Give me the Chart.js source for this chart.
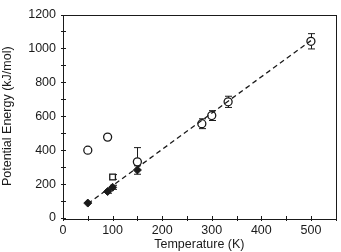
<!DOCTYPE html>
<html><head><meta charset="utf-8">
<script src="https://cdn.jsdelivr.net/npm/chart.js@4"></script>
<style>html,body{margin:0;padding:0;background:#fff}#c{display:block}</style>
</head><body>
<canvas id="c" width="341" height="252"></canvas>
<script>
const xTicks = [0, 100, 200, 300, 400, 500];
const yTicks = [0, 200, 400, 600, 800, 1000, 1200];
const xMinor = [50, 150, 250, 350, 450, 550];
const yMinor = [100, 300, 500, 700, 900, 1100];

const openCircleT = [50, 90, 150, 280, 300, 333, 500];
const openCircleE = [400, 477, 331, 556, 604, 685, 1042];
const openCircleUp = [0, 0, 84, 29, 29, 33, 45];
const openCircleDn = [0, 0, 0, 29, 29, 33, 45];

const openSquareT = [100];
const openSquareE = [242];
const openSquareUp = [14];
const openSquareDn = [14];

const filledT = [50, 90, 100, 150];
const filledE = [88, 156, 181, 283];
const filledUp = [0, 10, 12, 25];
const filledDn = [0, 10, 12, 25];

const fitT = [50, 500];
const fitE = [84, 1046];

const pts = (xs, ys) => xs.map((x, i) => ({x, y: ys[i]}));
const FONT = {family: "'Liberation Sans', Arial, sans-serif", size: 12.5};
const INK = '#1a1a1a';

const errPlugin = {
  id: 'err',
  beforeDatasetsDraw(chart) {
    const ctx = chart.ctx, xs = chart.scales.x, ys = chart.scales.y;
    ctx.save();
    ctx.strokeStyle = INK; ctx.lineWidth = 1;
    chart.data.datasets.forEach(ds => {
      if (!ds.errUp) return;
      ds.data.forEach((p, i) => {
        const px = Math.round(xs.getPixelForValue(p.x)) + 0.5;
        const up = ds.errUp[i], dn = ds.errDn[i];
        if (!up && !dn) return;
        const y0 = ys.getPixelForValue(p.y - dn), y1 = ys.getPixelForValue(p.y + up);
        ctx.beginPath(); ctx.moveTo(px, y0); ctx.lineTo(px, y1);
        if (up) { ctx.moveTo(px - 3.5, y1); ctx.lineTo(px + 3.5, y1); }
        if (dn) { ctx.moveTo(px - 3.5, y0); ctx.lineTo(px + 3.5, y0); }
        ctx.stroke();
      });
    });
    ctx.restore();
  },
  afterDraw(chart) {
    const ctx = chart.ctx, a = chart.chartArea, xs = chart.scales.x, ys = chart.scales.y;
    ctx.save();
    ctx.strokeStyle = INK; ctx.lineWidth = 1;
    ctx.strokeRect(Math.round(a.left) + 0.5, Math.round(a.top) + 0.5, Math.round(a.right - a.left), Math.round(a.bottom - a.top));
    ctx.beginPath();
    const b = Math.round(a.bottom) + 0.5, l = Math.round(a.left) + 0.5;
    xTicks.concat(xMinor).forEach(v => {
      const px = Math.round(xs.getPixelForValue(v)) + 0.5;
      ctx.moveTo(px, b - 2.5); ctx.lineTo(px, b + 2.5);
    });
    yTicks.concat(yMinor).forEach(v => {
      const py = Math.round(ys.getPixelForValue(v)) + 0.5;
      ctx.moveTo(l - 2.5, py); ctx.lineTo(l + 2.5, py);
    });
    ctx.stroke();
    ctx.restore();
  }
};

new Chart(document.getElementById('c'), {
  type: 'scatter',
  data: {
    datasets: [
      {type: 'line', data: pts(fitT, fitE), borderColor: INK, borderWidth: 1.3, borderDash: [5, 3.5], pointRadius: 0, fill: false},
      {data: pts(filledT, filledE), errUp: filledUp, errDn: filledDn, pointStyle: 'rectRot', pointRadius: 4, backgroundColor: INK, borderColor: INK, borderWidth: 1},
      {data: pts(openSquareT, openSquareE), errUp: openSquareUp, errDn: openSquareDn, pointStyle: 'rect', pointRadius: 4, backgroundColor: '#fff', borderColor: INK, borderWidth: 1.3},
      {data: pts(openCircleT, openCircleE), errUp: openCircleUp, errDn: openCircleDn, pointStyle: 'circle', pointRadius: 4, backgroundColor: '#fff', borderColor: INK, borderWidth: 1.3}
    ]
  },
  options: {
    responsive: false, animation: false,
    layout: {padding: {top: 11, right: 2, left: 0, bottom: 0}},
    plugins: {legend: {display: false}, tooltip: {enabled: false}},
    scales: {
      x: {
        type: 'linear', min: 0, max: 550,
        afterBuildTicks: s => { s.ticks = xTicks.map(v => ({value: v})); },
        afterFit: s => { s.height = 34; },
        grid: {display: false, drawTicks: false},
        border: {display: false},
        ticks: {color: INK, font: FONT, padding: 5, maxRotation: 0, callback: v => String(v)},
        title: {display: true, text: 'Temperature (K)', color: INK, font: FONT, padding: {top: 0, bottom: 0}}
      },
      y: {
        type: 'linear', min: 0, max: 1200,
        afterBuildTicks: s => { s.ticks = yTicks.map(v => ({value: v})); },
        afterFit: s => { s.width = 63; },
        grid: {display: false, drawTicks: false},
        border: {display: false},
        ticks: {color: INK, font: FONT, padding: 7, callback: v => String(v)},
        title: {display: true, text: 'Potential Energy (kJ/mol)', color: INK, font: FONT, padding: {top: 0, bottom: 0}}
      }
    }
  },
  plugins: [errPlugin]
});
</script>
</body></html>
